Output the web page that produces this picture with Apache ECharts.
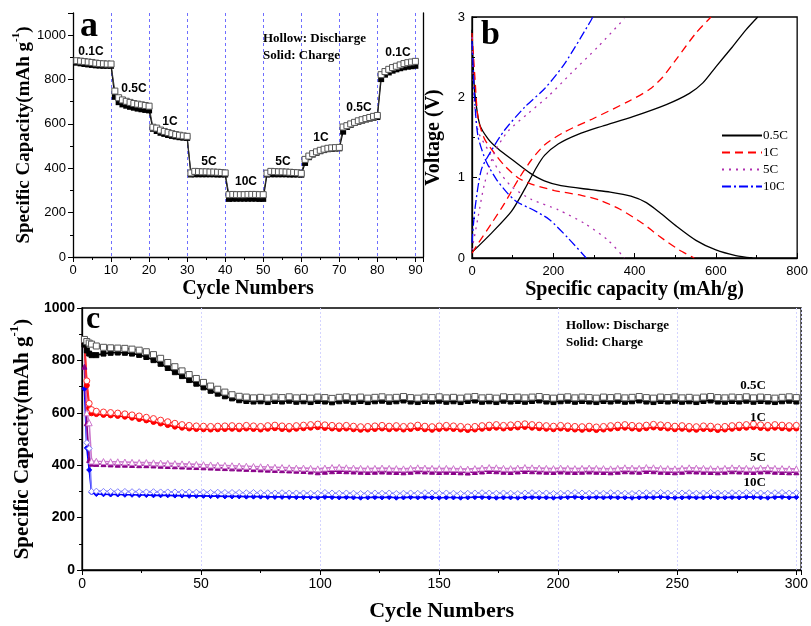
<!DOCTYPE html>
<html>
<head>
<meta charset="utf-8">
<script src="https://cdn.jsdelivr.net/npm/echarts@6/dist/echarts.min.js"></script>
<style>
html, body { margin: 0; padding: 0; background: #fff; }
#main { width: 811px; height: 626px; }
</style>
</head>
<body>
<div id="main"></div>
<script>
// ---- panel a : rate capability ----
var cyclesA = [
  1, 2, 3, 4, 5, 6, 7, 8, 9, 10,
  11, 12, 13, 14, 15, 16, 17, 18, 19, 20,
  21, 22, 23, 24, 25, 26, 27, 28, 29, 30,
  31, 32, 33, 34, 35, 36, 37, 38, 39, 40,
  41, 42, 43, 44, 45, 46, 47, 48, 49, 50,
  51, 52, 53, 54, 55, 56, 57, 58, 59, 60,
  61, 62, 63, 64, 65, 66, 67, 68, 69, 70,
  71, 72, 73, 74, 75, 76, 77, 78, 79, 80,
  81, 82, 83, 84, 85, 86, 87, 88, 89, 90
];
var dischargeA = [
  885, 883, 881, 879, 877, 874, 872, 871, 870, 870,
  748, 718, 708, 702, 697, 692, 689, 686, 683, 680,
  585, 581, 572, 566, 561, 556, 552, 549, 546, 544,
  379, 386, 385, 384, 384, 383, 383, 382, 381, 379,
  281, 282, 281, 281, 281, 282, 282, 282, 281, 281,
  378, 386, 385, 384, 384, 383, 382, 381, 380, 377,
  440, 455, 466, 474, 481, 486, 490, 492, 493, 494,
  586, 592, 600, 607, 614, 619, 624, 629, 634, 638,
  822, 836, 846, 854, 860, 866, 872, 876, 879, 882
];
var chargeA = [
  876, 873, 870, 868, 866, 864, 863, 862, 862, 862,
  722, 698, 688, 682, 677, 673, 669, 666, 663, 661,
  578, 568, 560, 555, 550, 546, 543, 540, 538, 537,
  372, 373, 373, 373, 373, 373, 373, 372, 372, 372,
  262, 263, 263, 263, 263, 263, 263, 263, 262, 262,
  372, 373, 373, 373, 373, 373, 372, 372, 372, 371,
  424, 450, 462, 470, 477, 482, 486, 488, 489, 490,
  565, 586, 596, 604, 610, 615, 620, 624, 628, 631,
  802, 822, 832, 840, 846, 851, 855, 858, 860, 862
];
var rateLabelsA = ['0.1C', '0.5C', '1C', '5C', '10C', '5C', '1C', '0.5C', '0.1C'];

// ---- panel b : voltage profiles [capacity, voltage] ----
var dis05 = [[0, 2.84], [3, 2.4], [7, 2.05], [19, 1.66], [40, 1.48], [64, 1.36], [105, 1.2], [142, 1.06], [178, 0.96], [219, 0.9], [293, 0.85], [340, 0.82], [391, 0.77], [429, 0.69], [461, 0.57], [502, 0.4], [551, 0.22], [600, 0.1], [649, 0.03], [690, 0]];
var chg05 = [[0, 0.07], [48, 0.31], [97, 0.58], [130, 0.86], [159, 1.13], [179, 1.28], [212, 1.42], [261, 1.54], [320, 1.64], [396, 1.76], [478, 1.91], [535, 2.05], [568, 2.18], [600, 2.38], [641, 2.63], [674, 2.84], [703, 3.0]];
var dis1 = [[0, 2.8], [7, 2.26], [15, 1.74], [31, 1.48], [56, 1.3], [80, 1.15], [113, 1.0], [146, 0.92], [203, 0.84], [269, 0.78], [314, 0.72], [363, 0.61], [420, 0.43], [461, 0.27], [510, 0.1], [547, 0]];
var chg1 = [[0, 0.06], [15, 0.18], [48, 0.43], [80, 0.68], [113, 0.97], [146, 1.22], [179, 1.41], [228, 1.57], [300, 1.74], [385, 1.95], [437, 2.1], [469, 2.25], [502, 2.47], [551, 2.8], [588, 3.0]];
var dis5 = [[0, 2.75], [5, 2.0], [15, 1.58], [40, 1.34], [64, 1.1], [97, 0.89], [146, 0.73], [212, 0.6], [277, 0.43], [335, 0.22], [375, 0]];
var chg5 = [[0, 0.1], [15, 0.51], [31, 0.93], [56, 1.32], [89, 1.58], [138, 1.8], [187, 2.01], [244, 2.3], [310, 2.63], [375, 2.98]];
var dis10 = [[0, 2.7], [7, 1.93], [15, 1.51], [35, 1.2], [60, 0.98], [85, 0.82], [110, 0.7], [150, 0.6], [190, 0.48], [236, 0.25], [281, 0]];
var chg10 = [[0, 0.19], [7, 0.6], [23, 1.1], [48, 1.34], [80, 1.59], [130, 1.88], [179, 2.11], [228, 2.42], [293, 2.96], [297, 3.0]];

// ---- panel c : long cycling ----
var cyclesC = [1, 2, 3, 4,
  6, 9, 12, 15, 18, 21, 24, 27, 30, 33,
  36, 39, 42, 45, 48, 51, 54, 57, 60, 63,
  66, 69, 72, 75, 78, 81, 84, 87, 90, 93,
  96, 99, 102, 105, 108, 111, 114, 117, 120, 123,
  126, 129, 132, 135, 138, 141, 144, 147, 150, 153,
  156, 159, 162, 165, 168, 171, 174, 177, 180, 183,
  186, 189, 192, 195, 198, 201, 204, 207, 210, 213,
  216, 219, 222, 225, 228, 231, 234, 237, 240, 243,
  246, 249, 252, 255, 258, 261, 264, 267, 270, 273,
  276, 279, 282, 285, 288, 291, 294, 297, 300];
var disC05 = [880, 872, 866, 862,
  855, 850, 848, 847, 846, 843, 839, 833, 822, 808,
  792, 776, 760, 746, 731, 716, 702, 690, 679, 669,
  663, 660, 657, 659, 656, 660, 658, 661, 657, 659,
  656, 660, 658, 655, 659, 661, 657, 660, 656, 659,
  661, 657, 659, 662, 658, 656, 660, 658, 661, 657,
  659, 656, 660, 662, 657, 659, 656, 661, 658, 660,
  657, 660, 662, 658, 656, 659, 661, 657, 660, 658,
  656, 660, 658, 661, 657, 659, 662, 658, 656, 660,
  658, 661, 657, 659, 656, 660, 662, 658, 657, 660,
  658, 661, 657, 660, 658, 656, 659, 661, 658];
var chgC05 = [860, 838, 826, 820,
  820, 826, 829, 830, 829, 826, 821, 813, 801, 787,
  771, 755, 740, 725, 711, 697, 684, 673, 663, 655,
  648, 645, 643, 644, 641, 645, 643, 646, 642, 644,
  641, 645, 643, 640, 644, 646, 642, 645, 641, 644,
  646, 642, 644, 647, 643, 641, 645, 643, 646, 642,
  644, 641, 645, 647, 642, 644, 641, 646, 643, 645,
  642, 645, 647, 643, 641, 644, 646, 642, 645, 643,
  641, 645, 643, 646, 642, 644, 647, 643, 641, 645,
  643, 646, 642, 644, 641, 645, 647, 643, 642, 645,
  643, 646, 642, 645, 643, 641, 644, 646, 643];
var disC1 = [878, 722, 636, 612,
  606, 603, 601, 599, 596, 592, 588, 583, 578, 572,
  566, 560, 555, 552, 550, 549, 548, 549, 550, 551,
  549, 552, 550, 548, 551, 553, 550, 548, 551, 553,
  555, 557, 554, 552, 550, 552, 549, 547, 548, 550,
  552, 549, 551, 548, 550, 553, 549, 547, 550, 552,
  550, 548, 546, 548, 551, 553, 555, 552, 554, 556,
  558, 555, 553, 551, 549, 552, 550, 548, 547, 549,
  546, 548, 551, 553, 555, 552, 550, 553, 556, 554,
  552, 549, 551, 548, 547, 550, 549, 546, 548, 551,
  553, 555, 557, 554, 552, 555, 553, 551, 552];
var chgC1 = [868, 705, 618, 598,
  595, 592, 590, 588, 585, 581, 576, 571, 565, 559,
  553, 547, 543, 540, 538, 537, 536, 537, 538, 539,
  537, 540, 538, 536, 539, 541, 538, 536, 539, 541,
  543, 545, 542, 540, 538, 540, 537, 535, 536, 538,
  540, 537, 539, 536, 538, 541, 537, 535, 538, 540,
  538, 536, 534, 536, 539, 541, 543, 540, 542, 544,
  546, 543, 541, 539, 537, 540, 538, 536, 535, 537,
  534, 536, 539, 541, 543, 540, 538, 541, 544, 542,
  540, 537, 539, 536, 535, 538, 537, 534, 536, 539,
  541, 543, 545, 542, 540, 543, 541, 539, 540];
var disC5 = [880, 600, 562, 416,
  415, 414, 413, 413, 412, 411, 410, 410, 409, 408,
  407, 406, 405, 404, 403, 402, 401, 400, 399, 398,
  397, 396, 395, 394, 393, 392, 391, 390, 389, 389,
  388, 386, 389, 391, 392, 390, 389, 388, 387, 388,
  389, 388, 387, 386, 388, 390, 389, 388, 387, 388,
  387, 386, 385, 387, 389, 391, 390, 388, 387, 389,
  391, 390, 389, 388, 387, 389, 388, 387, 388, 389,
  388, 387, 386, 388, 390, 389, 388, 391, 390, 388,
  387, 386, 388, 390, 389, 388, 387, 386, 388, 390,
  389, 388, 387, 389, 390, 388, 387, 386, 386];
var chgC5 = [776, 560, 420, 406,
  405, 404, 403, 402, 402, 401, 400, 400, 399, 398,
  397, 396, 395, 394, 393, 392, 391, 390, 389, 388,
  387, 386, 385, 384, 383, 382, 381, 380, 379, 378,
  376, 373, 375, 377, 378, 377, 376, 375, 374, 375,
  376, 375, 374, 373, 375, 377, 376, 375, 374, 375,
  374, 373, 372, 374, 376, 378, 377, 375, 374, 376,
  378, 377, 376, 375, 374, 376, 375, 374, 375, 376,
  375, 374, 373, 375, 377, 376, 375, 378, 377, 375,
  374, 373, 375, 377, 376, 375, 374, 373, 375, 377,
  376, 375, 374, 376, 377, 375, 374, 373, 373];
var disC10 = [880, 486, 464, 300,
  301, 300, 300, 299, 300, 299, 299, 298, 299, 298,
  298, 298, 297, 298, 297, 297, 296, 297, 296, 296,
  296, 295, 296, 295, 295, 294, 295, 294, 294, 294,
  293, 293, 296, 294, 293, 294, 293, 292, 293, 294,
  293, 294, 292, 293, 294, 293, 295, 294, 293, 294,
  293, 292, 293, 294, 295, 294, 293, 294, 293, 292,
  294, 295, 293, 294, 292, 293, 294, 296, 294, 293,
  294, 293, 295, 294, 293, 292, 294, 295, 294, 296,
  294, 293, 294, 295, 293, 294, 296, 294, 293, 295,
  294, 296, 295, 294, 293, 295, 296, 294, 295];
var chgC10 = [692, 466, 382, 296,
  290, 289, 288, 288, 287, 287, 286, 286, 285, 285,
  285, 284, 284, 283, 283, 283, 282, 282, 281, 281,
  281, 280, 280, 280, 279, 279, 279, 279, 278, 278,
  278, 277, 279, 278, 277, 278, 277, 276, 277, 278,
  277, 278, 276, 277, 278, 277, 278, 277, 276, 277,
  277, 276, 277, 278, 278, 277, 276, 277, 277, 276,
  277, 278, 277, 277, 276, 277, 278, 279, 277, 277,
  278, 277, 278, 277, 277, 276, 277, 278, 277, 279,
  277, 276, 277, 278, 277, 277, 279, 277, 277, 278,
  277, 279, 278, 277, 276, 278, 279, 277, 278];
var rateLabelsC = ['0.5C', '1C', '5C', '10C'];

var SANS = '"Liberation Sans", Arial, sans-serif';
var SERIF = '"Liberation Serif", "Times New Roman", serif';

function pairs(xs, ys) {
  return xs.map(function (x, i) { return [x, ys[i]]; });
}

function plain(v) { return String(v); }

function tickLabel(bold, size) {
  return {
    color: '#000', fontFamily: SANS, fontSize: size || 13, fontWeight: bold ? 'bold' : 'normal',
    margin: 7, formatter: plain
  };
}

function titleStyle(size) {
  return {
    color: '#000', fontFamily: SERIF, fontWeight: 'bold', fontSize: size,
    rich: {
      t: { fontFamily: SERIF, fontWeight: 'bold', fontSize: size, lineHeight: size + 4, verticalAlign: 'bottom' },
      sup: { fontFamily: SERIF, fontWeight: 'bold', fontSize: Math.round(size * 0.6), lineHeight: size + 4, verticalAlign: 'top', padding: [0, 0, 6, 0] }
    }
  };
}

var axisLine = { onZero: false, lineStyle: { color: '#000', width: 1.3 } };

function text(str, x, y, font, align) {
  return {
    type: 'text', x: x, y: y, z: 100,
    style: { text: str, font: font, fill: '#000', align: align || 'center', verticalAlign: 'middle' }
  };
}

var chart = echarts.init(document.getElementById('main'));

var labelPosA = [[91, 52], [134, 89], [170, 122], [209, 162], [246, 182], [283, 162], [321, 138], [359, 108], [398, 53]];
var labelPosC = [386, 418, 458, 483];

var graphics = [
  text('a', 80, 27, 'bold 36px ' + SERIF, 'left'),
  text('b', 481, 35, 'bold 34px ' + SERIF, 'left'),
  text('c', 86, 320, 'bold 32px ' + SERIF, 'left'),
  text('Hollow: Discharge', 263, 39, 'bold 13px ' + SERIF, 'left'),
  text('Solid: Charge', 263, 56, 'bold 13px ' + SERIF, 'left'),
  text('Hollow: Discharge', 566, 326, 'bold 13px ' + SERIF, 'left'),
  text('Solid: Charge', 566, 343, 'bold 13px ' + SERIF, 'left')
];
rateLabelsA.forEach(function (s, i) {
  graphics.push(text(s, labelPosA[i][0], labelPosA[i][1], 'bold 12px ' + SANS));
});
rateLabelsC.forEach(function (s, i) {
  graphics.push(text(s, 766, labelPosC[i], 'bold 13px ' + SERIF, 'right'));
});

function curve(name, data, color, type) {
  return {
    name: name, type: 'line', xAxisIndex: 1, yAxisIndex: 2,
    data: data, symbol: 'none', smooth: 0.25,
    lineStyle: { color: color, width: 1.3, type: type },
    itemStyle: { color: color }
  };
}

function cycleSeries(name, ys, symbol, size, fill, stroke, lineColor) {
  return {
    name: name, type: 'line', xAxisIndex: 2, yAxisIndex: 3,
    data: pairs(cyclesC, ys), symbol: symbol, symbolSize: size,
    itemStyle: { color: fill, borderColor: stroke, borderWidth: 1 },
    lineStyle: { color: lineColor, width: 1.6 }
  };
}

var option = {
  animation: false,
  backgroundColor: '#fff',
  grid: [
    { left: 73, top: 13, width: 350, height: 244 },
    { left: 472, top: 17, width: 326, height: 241, show: true, borderColor: '#000', borderWidth: 1.3 },
    { left: 82, top: 308, width: 721, height: 262, show: true, borderColor: '#000', borderWidth: 1.3 }
  ],
  legend: {
    data: ['0.5C', '1C', '5C', '10C'],
    orient: 'vertical', left: 716, top: 124, itemGap: 4,
    itemWidth: 40, itemHeight: 10,
    itemStyle: { opacity: 0 },
    textStyle: { color: '#000', fontFamily: SERIF, fontSize: 13, padding: [0, 0, 0, -4] }
  },
  xAxis: [
    {
      gridIndex: 0, type: 'value', min: 0, max: 92, interval: 10,
      axisLine: axisLine,
      axisTick: { length: 5, lineStyle: { color: '#000' } },
      minorTick: { show: true, splitNumber: 2, length: 3, lineStyle: { color: '#000' } },
      splitLine: { show: true, lineStyle: { color: '#6f6fff', type: [3, 3], width: 1 } },
      axisLabel: Object.assign(tickLabel(), { showMaxLabel: false }),
      name: 'Cycle Numbers', nameLocation: 'middle', nameGap: 22, nameTextStyle: titleStyle(20)
    },
    {
      gridIndex: 1, type: 'value', min: 0, max: 800, interval: 200,
      axisLine: axisLine,
      axisTick: { inside: true, length: 5, lineStyle: { color: '#000' } },
      minorTick: { show: true, splitNumber: 2, length: 3, lineStyle: { color: '#000' } },
      splitLine: { show: false },
      axisLabel: tickLabel(),
      name: 'Specific capacity (mAh/g)', nameLocation: 'middle', nameGap: 22, nameTextStyle: titleStyle(20)
    },
    {
      gridIndex: 2, type: 'value', min: 0, max: 302, interval: 50,
      axisLine: axisLine,
      axisTick: { length: 5, lineStyle: { color: '#000' } },
      minorTick: { show: true, splitNumber: 2, length: 3, lineStyle: { color: '#000' } },
      splitLine: { show: true, lineStyle: { color: '#d4d4ff', type: [2, 2], width: 1 } },
      axisLabel: Object.assign(tickLabel(false, 14), { showMaxLabel: false }),
      name: 'Cycle Numbers', nameLocation: 'middle', nameGap: 30, nameTextStyle: titleStyle(22)
    }
  ],
  yAxis: [
    {
      gridIndex: 0, type: 'value', min: 0, max: 1100, interval: 200,
      axisLine: Object.assign({ show: true }, axisLine),
      axisTick: { show: true, length: 5, lineStyle: { color: '#000' } },
      minorTick: { show: true, splitNumber: 2, length: 3, lineStyle: { color: '#000' } },
      splitLine: { show: false },
      axisLabel: Object.assign(tickLabel(), { showMaxLabel: false }),
      name: '{t|Specific Capacity(mAh g}{sup|-1}{t|)}', nameLocation: 'middle', nameGap: 38,
      nameTextStyle: titleStyle(19)
    },
    {
      gridIndex: 0, type: 'value', position: 'right', min: 0, max: 1100,
      axisLine: Object.assign({ show: true }, axisLine),
      axisTick: { show: false }, axisLabel: { show: false }, splitLine: { show: false }
    },
    {
      gridIndex: 1, type: 'value', min: 0, max: 3, interval: 1,
      axisLine: Object.assign({ show: true }, axisLine),
      axisTick: { show: true, inside: true, length: 5, lineStyle: { color: '#000' } },
      minorTick: { show: true, splitNumber: 2, length: 3, lineStyle: { color: '#000' } },
      splitLine: { show: false },
      axisLabel: tickLabel(),
      name: 'Voltage (V)', nameLocation: 'middle', nameGap: 28, nameTextStyle: titleStyle(20)
    },
    {
      gridIndex: 2, type: 'value', min: 0, max: 1000, interval: 200,
      axisLine: Object.assign({ show: true }, axisLine),
      axisTick: { show: true, length: 5, lineStyle: { color: '#000' } },
      minorTick: { show: true, splitNumber: 2, length: 3, lineStyle: { color: '#000' } },
      splitLine: { show: false },
      axisLabel: tickLabel(true, 14),
      name: '{t|Specific Capacity(mAh g}{sup|-1}{t|)}', nameLocation: 'middle', nameGap: 46,
      nameTextStyle: titleStyle(21)
    }
  ],
  graphic: graphics,
  series: [
    {
      name: 'a-charge', type: 'line', xAxisIndex: 0, yAxisIndex: 0,
      data: pairs(cyclesA, chargeA), symbol: 'rect', symbolSize: 6,
      itemStyle: { color: '#000' }, lineStyle: { color: '#000', width: 1.2 }
    },
    {
      name: 'a-discharge', type: 'line', xAxisIndex: 0, yAxisIndex: 0,
      data: pairs(cyclesA, dischargeA), symbol: 'rect', symbolSize: 6,
      itemStyle: { color: '#fff', borderColor: '#555', borderWidth: 1 },
      lineStyle: { color: '#333', width: 1 }
    },
    curve('0.5C', dis05, '#000', 'solid'),
    curve('0.5C', chg05, '#000', 'solid'),
    curve('1C', dis1, '#ff0000', [8, 5]),
    curve('1C', chg1, '#ff0000', [8, 5]),
    curve('5C', dis5, '#b030b0', [2, 5]),
    curve('5C', chg5, '#b030b0', [2, 5]),
    curve('10C', dis10, '#0000ff', [9, 3, 2, 3]),
    curve('10C', chg10, '#0000ff', [9, 3, 2, 3]),
    cycleSeries('c-10C-chg', chgC10, 'diamond', 5, '#0000ff', '#0000ff', '#0000ff'),
    cycleSeries('c-10C-dis', disC10, 'diamond', 6, '#fff', '#8080ff', '#8080ff'),
    cycleSeries('c-5C-chg', chgC5, 'triangle', 5, '#880088', '#880088', '#880088'),
    cycleSeries('c-5C-dis', disC5, 'triangle', 6, '#fff', '#cc77cc', '#cc77cc'),
    cycleSeries('c-1C-chg', chgC1, 'circle', 5, '#ff0000', '#ff0000', '#ff0000'),
    cycleSeries('c-1C-dis', disC1, 'circle', 6, '#fff', '#ff3030', '#ff3030'),
    cycleSeries('c-05C-chg', chgC05, 'rect', 5, '#000', '#000', '#000'),
    cycleSeries('c-05C-dis', disC05, 'rect', 6, '#fff', '#555', '#555')
  ]
};

chart.setOption(option);
</script>
</body>
</html>
